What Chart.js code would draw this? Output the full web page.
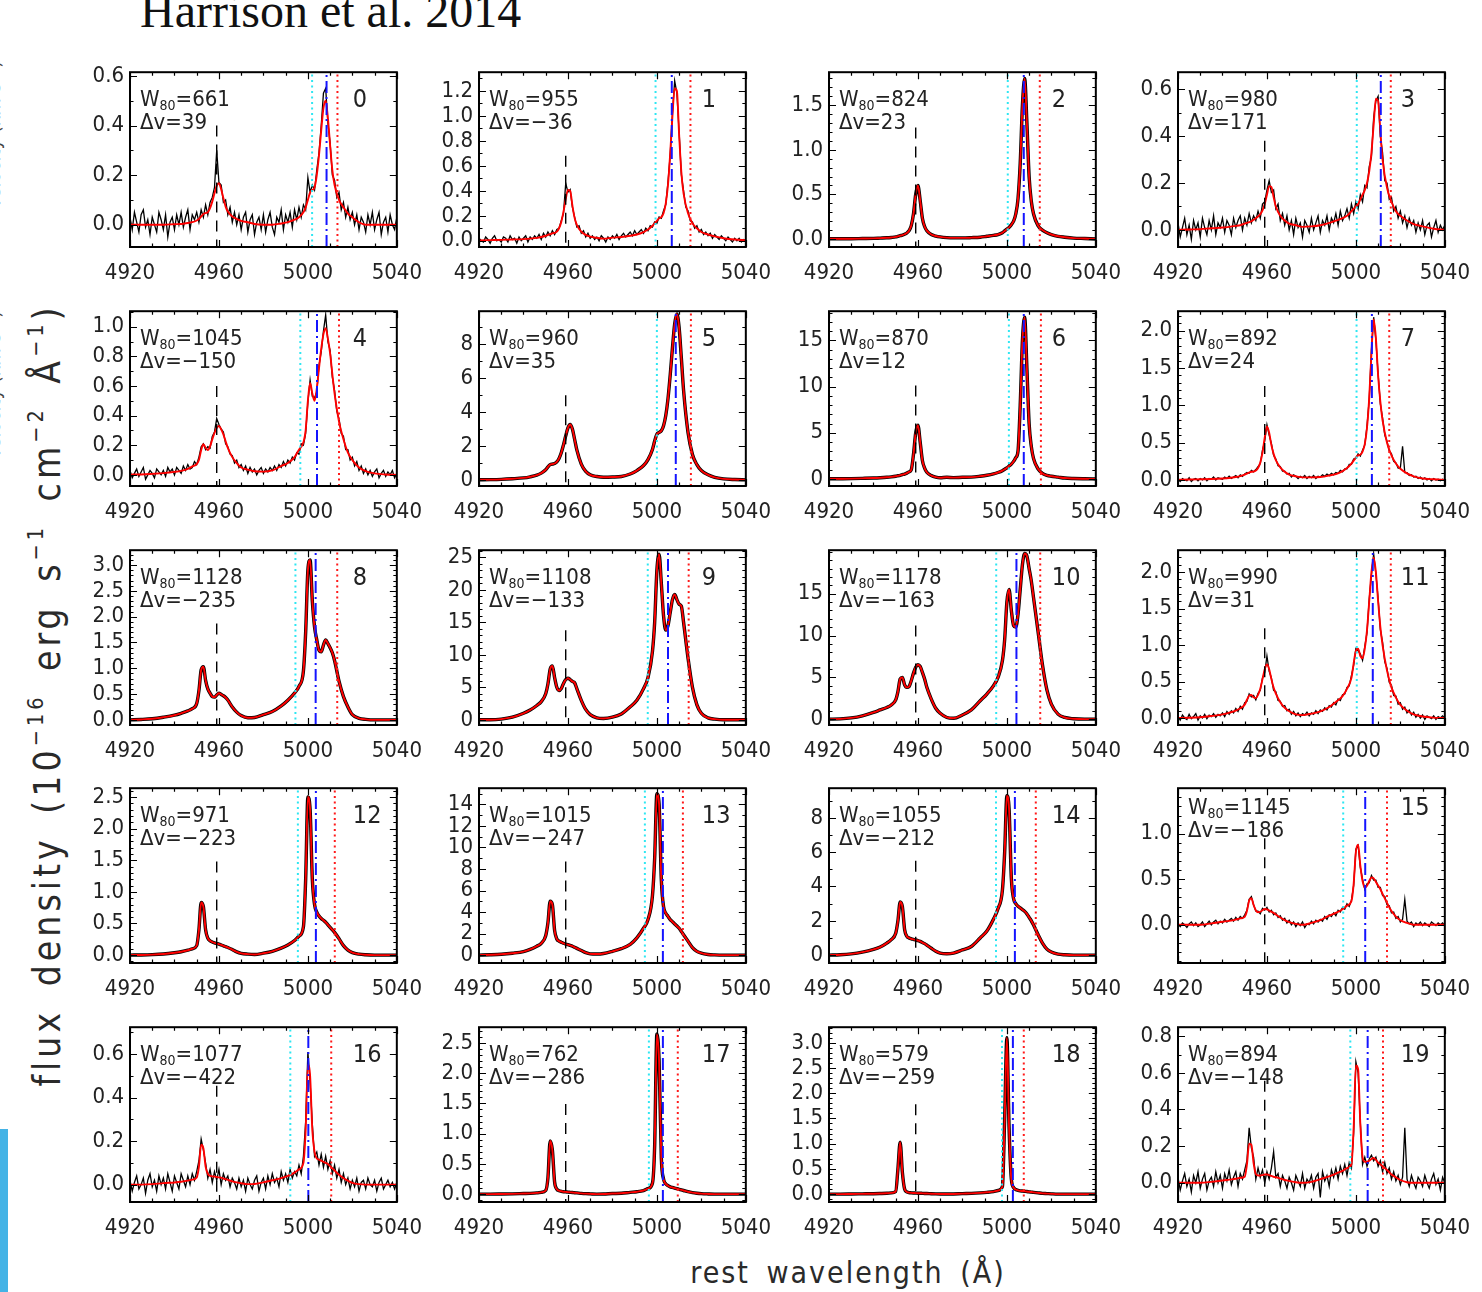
<!DOCTYPE html>
<html>
<head>
<meta charset="utf-8">
<script src="https://cdn.jsdelivr.net/npm/chart.js@4.4.1/dist/chart.umd.min.js"></script>
<style>
  body { margin: 0; width: 1482px; height: 1292px; overflow: hidden; position: relative; background: #fff; }
  canvas { position: absolute; }
  .lab { position: absolute; white-space: nowrap; color: #2a2a2a; font-family: 'DejaVu Sans Condensed', 'DejaVu Sans', sans-serif; }
  .lab sup { font-size: 58%; vertical-align: 0.75em; line-height: 0; }
  #title { left: 140px; top: -13px; font: 48px/48px 'Liberation Serif', 'DejaVu Serif', serif; color: #111; position: absolute; white-space: nowrap; }
  #ylab { left: 47px; top: 695px; font-size: 37px; letter-spacing: 4px; word-spacing: 8px; transform: translate(-50%, -50%) rotate(-90deg); }
  #xlab { left: 848px; top: 1272px; font-size: 30px; letter-spacing: 2px; word-spacing: 6px; transform: translate(-50%, -50%); }
  .cut { font-size: 20px; transform: translate(-50%, -50%) rotate(-90deg); color: #444; }
  #bar { position: absolute; left: 0; top: 1129px; width: 8px; height: 163px; background: #44b3e6; }
</style>
</head>
<body>
<div id="title">Harrison et al. 2014</div>
<div class="lab cut" style="left:-7px;top:135px">Velocity (km s<sup>−1</sup>)</div>
<div class="lab cut" style="left:-7px;top:385px">Velocity (km s<sup>−1</sup>)</div>
<div class="lab" id="ylab">flux density (10<sup>−16</sup> erg s<sup>−1</sup> cm<sup>−2</sup> Å<sup>−1</sup>)</div>
<div class="lab" id="xlab">rest wavelength (Å)</div>
<div id="bar"></div>
<script>
// ---- data ----
const xTicks = [4920, 4960, 5000, 5040];

const w80 = [661, 955, 824, 980, 1045, 960, 870, 892, 1128, 1108, 1178, 990, 971, 1015, 1055, 1145, 1077, 762, 579, 894];
const deltaV = [39, -36, 23, 171, -150, 35, 12, 24, -235, -133, -163, 31, -223, -247, -212, -186, -422, -286, -259, -148];

const yMin = [-0.09, -0.05, -0.09, -0.073, -0.075, -0.36, -0.76, -0.08, -0.1, -0.8, -0.7, -0.096, -0.125, -0.73, -0.46, -0.42, -0.08, -0.13, -0.157, -0.105];
const yMax = [0.615, 1.35, 1.87, 0.673, 1.105, 9.96, 18.15, 2.26, 3.29, 26.1, 20.2, 2.30, 2.64, 15.5, 9.73, 1.5, 0.724, 2.76, 3.31, 0.849];
const yTicks = [
  [0, 0.2, 0.4, 0.6], [0, 0.2, 0.4, 0.6, 0.8, 1.0, 1.2], [0, 0.5, 1.0, 1.5], [0, 0.2, 0.4, 0.6],
  [0, 0.2, 0.4, 0.6, 0.8, 1.0], [0, 2, 4, 6, 8], [0, 5, 10, 15], [0, 0.5, 1.0, 1.5, 2.0],
  [0, 0.5, 1.0, 1.5, 2.0, 2.5, 3.0], [0, 5, 10, 15, 20, 25], [0, 5, 10, 15], [0, 0.5, 1.0, 1.5, 2.0],
  [0, 0.5, 1.0, 1.5, 2.0, 2.5], [0, 2, 4, 6, 8, 10, 12, 14], [0, 2, 4, 6, 8], [0, 0.5, 1.0],
  [0, 0.2, 0.4, 0.6], [0, 0.5, 1.0, 1.5, 2.0, 2.5], [0, 0.5, 1.0, 1.5, 2.0, 2.5, 3.0], [0, 0.2, 0.4, 0.6, 0.8]
];
const yMinor = [0.1, 0.1, 0.1, 0.1, 0.1, 1, 1, 0.1, 0.1, 1, 1, 0.1, 0.1, 1, 1, 0.1, 0.1, 0.1, 0.1, 0.1];
const yDecimals = [1, 1, 1, 1, 1, 0, 0, 1, 1, 0, 0, 1, 1, 0, 0, 1, 1, 1, 1, 1];

// marker lines: [OIII]4959 (black dashed), v10 (cyan), median (blue), v90 (red)
const line4959 = 4959;
const dashTop = [0.40, 0.68, 1.25, 0.38, 0.60, 5.0, 10.1, 1.26, 1.87, 13.8, 11.2, 1.23, 1.48, 8.7, 5.5, 0.95, 0.455, 1.49, 1.78, 0.557];
const v10 = [5001.9, 4999.4, 5000.4, 5000.4, 4996.6, 5000.0, 5000.9, 5000.3, 4994.4, 4995.9, 4995.2, 5000.4, 4995.5, 4994.6, 4995.1, 4994.3, 4992.1, 4996.4, 4997.8, 4997.5];
const vMed = [5008.4, 5006.7, 5007.6, 5011.2, 5004.1, 5008.5, 5007.6, 5007.2, 5003.5, 5005.0, 5004.3, 5007.6, 5003.6, 5002.7, 5003.6, 5004.2, 5000.2, 5002.7, 5002.7, 5005.3];
const v90 = [5013.3, 5015.1, 5014.8, 5015.7, 5014.0, 5015.3, 5015.3, 5015.0, 5013.2, 5014.3, 5015.0, 5015.7, 5012.1, 5011.7, 5013.0, 5014.0, 5010.5, 5009.4, 5007.6, 5012.2];

// wavelength grid of the fitted models
const fitWave = [4920, 4925, 4930, 4935, 4940, 4943, 4946, 4948,
  4950, 4951, 4952, 4953, 4954, 4955, 4956, 4957, 4958, 4959, 4960, 4961, 4962, 4963, 4964,
  4966, 4968, 4970, 4973, 4976, 4980, 4984,
  4988, 4991, 4994, 4996, 4998,
  4999, 5000, 5001, 5002, 5003, 5004, 5005, 5006, 5007, 5008, 5009, 5010, 5011, 5012,
  5014, 5016, 5018, 5020, 5023, 5026, 5030, 5035, 5040];

const fit0 = [0, 0, 0, 0, 0.002, 0.003, 0.007, 0.01,
  0.017, 0.023, 0.033, 0.043, 0.047, 0.05, 0.067, 0.093, 0.127, 0.157, 0.167, 0.143, 0.107, 0.073, 0.053,
  0.033, 0.023, 0.015, 0.01, 0.003, 0, 0,
  0.005, 0.01, 0.02, 0.03, 0.05,
  0.07, 0.10, 0.13, 0.14, 0.15, 0.20, 0.28, 0.38, 0.47, 0.50, 0.43, 0.32, 0.22, 0.16,
  0.10, 0.07, 0.045, 0.03, 0.01, 0, 0, 0, 0];
const fit1 = [0.003, 0.005, 0.007, 0.01, 0.013, 0.017, 0.023, 0.03,
  0.04, 0.047, 0.053, 0.06, 0.063, 0.073, 0.10, 0.15, 0.233, 0.333, 0.407, 0.40, 0.283, 0.183, 0.127,
  0.073, 0.047, 0.033, 0.023, 0.017, 0.025, 0.03,
  0.04, 0.05, 0.07, 0.09, 0.12,
  0.14, 0.16, 0.18, 0.19, 0.22, 0.30, 0.45, 0.70, 1.00, 1.22, 1.20, 0.85, 0.55, 0.38,
  0.22, 0.14, 0.10, 0.07, 0.05, 0.035, 0.02, 0.01, 0.005];
const fit2 = [0.002, 0.003, 0.003, 0.005, 0.007, 0.01, 0.013, 0.017,
  0.023, 0.03, 0.037, 0.043, 0.053, 0.067, 0.093, 0.15, 0.283, 0.50, 0.60, 0.433, 0.233, 0.14, 0.093,
  0.05, 0.033, 0.023, 0.015, 0.012, 0.012, 0.015,
  0.02, 0.03, 0.04, 0.05, 0.07,
  0.09, 0.11, 0.13, 0.16, 0.20, 0.28, 0.45, 0.85, 1.50, 1.80, 1.30, 0.70, 0.42, 0.28,
  0.15, 0.10, 0.07, 0.05, 0.03, 0.02, 0.01, 0.005, 0];
const fit3 = [0, 0.002, 0.003, 0.007, 0.01, 0.013, 0.017, 0.02,
  0.027, 0.03, 0.033, 0.037, 0.043, 0.05, 0.057, 0.067, 0.083, 0.11, 0.15, 0.187, 0.183, 0.14, 0.10,
  0.06, 0.04, 0.027, 0.02, 0.013, 0.015, 0.02,
  0.03, 0.04, 0.05, 0.06, 0.08,
  0.09, 0.10, 0.11, 0.13, 0.15, 0.17, 0.20, 0.25, 0.33, 0.45, 0.56, 0.55, 0.42, 0.30,
  0.18, 0.12, 0.08, 0.06, 0.04, 0.025, 0.015, 0.005, 0];
const fit4 = [0.002, 0.003, 0.007, 0.012, 0.02, 0.027, 0.04, 0.057,
  0.073, 0.10, 0.167, 0.207, 0.183, 0.167, 0.193, 0.24, 0.283, 0.317, 0.33, 0.307, 0.273, 0.227, 0.183,
  0.12, 0.08, 0.05, 0.035, 0.025, 0.022, 0.03,
  0.06, 0.08, 0.12, 0.17, 0.22,
  0.30, 0.50, 0.62, 0.55, 0.50, 0.58, 0.72, 0.85, 0.95, 0.99, 0.92, 0.82, 0.68, 0.55,
  0.36, 0.24, 0.15, 0.10, 0.05, 0.025, 0.01, 0.003, 0];
const fit5 = [0.01, 0.017, 0.033, 0.067, 0.117, 0.183, 0.283, 0.40,
  0.60, 0.77, 0.90, 0.93, 0.97, 1.07, 1.27, 1.60, 2.07, 2.60, 3.07, 3.27, 3.0, 2.4, 1.77,
  0.93, 0.5, 0.3, 0.2, 0.16, 0.17, 0.2,
  0.35, 0.55, 0.85, 1.2, 1.8,
  2.3, 2.7, 2.8, 2.9, 3.2, 3.8, 4.8, 6.2, 7.8, 9.2, 9.8, 9.0, 7.2, 5.3,
  2.8, 1.5, 0.9, 0.55, 0.3, 0.15, 0.06, 0.02, 0];
const fit6 = [0.017, 0.027, 0.04, 0.067, 0.1, 0.133, 0.183, 0.233,
  0.30, 0.35, 0.40, 0.467, 0.533, 0.633, 0.767, 1.0, 2.67, 5.0, 5.83, 4.0, 2.0, 1.17, 0.73,
  0.37, 0.2, 0.13, 0.18, 0.15, 0.18, 0.2,
  0.3, 0.4, 0.55, 0.7, 0.9,
  1.05, 1.2, 1.4, 1.6, 1.9, 2.3, 3.0, 8.0, 15.0, 17.5, 12.0, 6.0, 3.5, 2.2,
  1.1, 0.6, 0.4, 0.3, 0.2, 0.1, 0.05, 0.02, 0];
const fit7 = [0.003, 0.007, 0.01, 0.013, 0.02, 0.027, 0.04, 0.053,
  0.073, 0.087, 0.10, 0.11, 0.113, 0.127, 0.16, 0.233, 0.367, 0.567, 0.717, 0.633, 0.467, 0.35, 0.267,
  0.167, 0.11, 0.073, 0.05, 0.035, 0.035, 0.04,
  0.06, 0.08, 0.12, 0.16, 0.22,
  0.26, 0.30, 0.33, 0.34, 0.38, 0.48, 0.70, 1.10, 1.70, 2.15, 1.90, 1.40, 1.05, 0.80,
  0.50, 0.33, 0.22, 0.15, 0.09, 0.05, 0.02, 0.01, 0];
const fit8 = [0, 0.007, 0.02, 0.05, 0.09, 0.127, 0.173, 0.217,
  0.317, 0.567, 0.967, 1.033, 0.767, 0.60, 0.517, 0.45, 0.44, 0.483, 0.517, 0.493, 0.467, 0.433, 0.383,
  0.25, 0.15, 0.083, 0.04, 0.045, 0.10, 0.16,
  0.27, 0.38, 0.52, 0.65, 0.95,
  1.7, 2.9, 3.1, 2.3, 1.8, 1.55, 1.35, 1.32, 1.45, 1.55, 1.48, 1.40, 1.30, 1.15,
  0.75, 0.45, 0.25, 0.10, 0.03, 0.01, 0, 0, 0];
const fit9 = [0, 0, 0.1, 0.4, 1.0, 1.5, 2.2, 2.8,
  4.0, 5.5, 7.8, 8.3, 6.5, 5.0, 4.5, 4.8, 5.6, 6.2, 6.4, 6.2, 5.9, 5.7, 4.8,
  3.0, 1.6, 0.8, 0.3, 0.2, 0.4, 0.9,
  2.0, 3.0, 4.8, 6.5, 10.5,
  15, 23, 25.5, 21, 16, 13.8, 14.5, 16.5, 18.5, 19.3, 18.5, 17.8, 17.5, 15,
  9.5, 5.0, 2.3, 1.0, 0.3, 0.1, 0, 0, 0];
const fit10 = [0, 0.03, 0.15, 0.4, 0.8, 1.1, 1.4, 1.7,
  2.3, 3.3, 4.8, 5.0, 4.1, 3.8, 3.9, 4.6, 5.5, 6.2, 6.5, 6.3, 5.6, 4.8, 3.8,
  2.4, 1.3, 0.7, 0.2, 0.1, 0.5, 1.1,
  2.2, 3.0, 4.0, 5.0, 7.0,
  9.5, 14, 15.5, 13, 11.2, 11.0, 12.5, 15.5, 18.5, 19.8, 19.5, 18, 16.5, 14.5,
  10.5, 6.5, 3.5, 1.8, 0.6, 0.2, 0.05, 0, 0];
const fit11 = [0, 0.003, 0.01, 0.027, 0.05, 0.073, 0.10, 0.133,
  0.183, 0.25, 0.307, 0.317, 0.283, 0.273, 0.317, 0.40, 0.533, 0.667, 0.733, 0.667, 0.533, 0.417, 0.333,
  0.217, 0.14, 0.093, 0.05, 0.04, 0.06, 0.09,
  0.15, 0.22, 0.30, 0.40, 0.55,
  0.75, 0.92, 0.95, 0.85, 0.82, 0.95, 1.2, 1.6, 2.0, 2.2, 2.0, 1.6, 1.25, 1.0,
  0.65, 0.42, 0.28, 0.18, 0.1, 0.05, 0.02, 0.005, 0];
const fit12 = [0, 0.002, 0.007, 0.017, 0.037, 0.053, 0.077, 0.10,
  0.15, 0.40, 0.833, 0.767, 0.40, 0.267, 0.227, 0.207, 0.193, 0.183, 0.173, 0.16, 0.147, 0.133, 0.12,
  0.087, 0.05, 0.027, 0.015, 0.01, 0.03, 0.06,
  0.11, 0.16, 0.23, 0.30, 0.45,
  1.2, 2.5, 2.3, 1.2, 0.8, 0.68, 0.62, 0.58, 0.55, 0.52, 0.48, 0.44, 0.40, 0.36,
  0.26, 0.15, 0.08, 0.04, 0.015, 0.005, 0, 0, 0];
const fit13 = [0, 0.03, 0.08, 0.18, 0.33, 0.53, 0.83, 1.1,
  1.8, 3.0, 5.0, 4.7, 2.3, 1.5, 1.3, 1.2, 1.1, 1.03, 0.97, 0.9, 0.83, 0.73, 0.63,
  0.43, 0.23, 0.12, 0.1, 0.15, 0.35, 0.6,
  1.0, 1.6, 2.5, 3.3, 5.5,
  9, 15, 14, 7, 4.5, 3.9, 3.6, 3.3, 3.1, 2.9, 2.7, 2.5, 2.2, 1.9,
  1.3, 0.7, 0.35, 0.18, 0.06, 0.02, 0, 0, 0];
const fit14 = [0, 0.02, 0.07, 0.17, 0.33, 0.47, 0.7, 0.9,
  1.27, 2.0, 3.1, 2.83, 1.5, 1.1, 1.0, 0.95, 0.92, 0.88, 0.85, 0.8, 0.73, 0.67, 0.58,
  0.4, 0.23, 0.12, 0.08, 0.12, 0.3, 0.5,
  1.0, 1.4, 2.1, 2.7, 3.8,
  6, 9.3, 8.5, 4.5, 3.3, 3.0, 2.85, 2.75, 2.65, 2.55, 2.4, 2.2, 2.0, 1.75,
  1.2, 0.7, 0.35, 0.18, 0.06, 0.02, 0, 0, 0];
const fit15 = [0, 0, 0, 0.015, 0.033, 0.043, 0.057, 0.07,
  0.087, 0.15, 0.267, 0.293, 0.217, 0.16, 0.137, 0.143, 0.16, 0.173, 0.17, 0.157, 0.143, 0.13, 0.113,
  0.08, 0.05, 0.03, 0.01, 0, 0.02, 0.05,
  0.10, 0.13, 0.17, 0.21, 0.26,
  0.45, 0.80, 0.88, 0.65, 0.48, 0.41, 0.43, 0.48, 0.52, 0.51, 0.47, 0.43, 0.39, 0.34,
  0.24, 0.15, 0.09, 0.05, 0.02, 0, 0, 0, 0];
const fit16 = [0, 0, 0.002, 0.007, 0.01, 0.013, 0.018, 0.023,
  0.033, 0.083, 0.183, 0.167, 0.083, 0.05, 0.04, 0.038, 0.037, 0.035, 0.033, 0.032, 0.028, 0.025, 0.022,
  0.015, 0.01, 0.006, 0.002, 0.003, 0.01, 0.02,
  0.03, 0.04, 0.055, 0.07, 0.10,
  0.25, 0.55, 0.50, 0.25, 0.15, 0.12, 0.115, 0.11, 0.105, 0.10, 0.095, 0.085, 0.075, 0.065,
  0.045, 0.03, 0.018, 0.008, 0.002, 0, 0, 0, 0];
const fit17 = [0, 0, 0.002, 0.005, 0.01, 0.013, 0.02, 0.03,
  0.06, 0.27, 0.88, 0.73, 0.2, 0.083, 0.057, 0.047, 0.04, 0.037, 0.033, 0.03, 0.027, 0.023, 0.02,
  0.013, 0.008, 0.005, 0.001, 0.003, 0.01, 0.015,
  0.03, 0.04, 0.06, 0.09, 0.18,
  0.8, 2.65, 2.2, 0.6, 0.25, 0.17, 0.14, 0.12, 0.11, 0.10, 0.09, 0.08, 0.07, 0.06,
  0.04, 0.025, 0.015, 0.008, 0.003, 0, 0, 0, 0];
const fit18 = [0, 0, 0.002, 0.005, 0.008, 0.012, 0.017, 0.023,
  0.05, 0.5, 1.03, 0.43, 0.1, 0.043, 0.03, 0.025, 0.022, 0.02, 0.018, 0.017, 0.015, 0.013, 0.012,
  0.008, 0.005, 0.003, 0.001, 0.003, 0.01, 0.015,
  0.025, 0.035, 0.05, 0.07, 0.15,
  1.5, 3.1, 1.3, 0.3, 0.13, 0.09, 0.075, 0.065, 0.06, 0.055, 0.05, 0.045, 0.04, 0.035,
  0.025, 0.015, 0.01, 0.005, 0, 0, 0, 0, 0];
const fit19 = [0, 0, 0, 0.005, 0.012, 0.017, 0.022, 0.027,
  0.033, 0.10, 0.213, 0.207, 0.107, 0.047, 0.04, 0.04, 0.042, 0.045, 0.045, 0.042, 0.037, 0.033, 0.03,
  0.023, 0.015, 0.01, 0.003, 0, 0.005, 0.02,
  0.035, 0.05, 0.065, 0.08, 0.10,
  0.30, 0.64, 0.62, 0.32, 0.14, 0.115, 0.115, 0.12, 0.13, 0.135, 0.125, 0.11, 0.10, 0.09,
  0.07, 0.045, 0.03, 0.015, 0.003, 0, 0, 0, 0];

// observed spectra of the noisier sources, 1 A pixels
const obsWave = [
  4920, 4921, 4922, 4923, 4924, 4925, 4926, 4927, 4928, 4929,
  4930, 4931, 4932, 4933, 4934, 4935, 4936, 4937, 4938, 4939,
  4940, 4941, 4942, 4943, 4944, 4945, 4946, 4947, 4948, 4949,
  4950, 4951, 4952, 4953, 4954, 4955, 4956, 4957, 4958, 4959,
  4960, 4961, 4962, 4963, 4964, 4965, 4966, 4967, 4968, 4969,
  4970, 4971, 4972, 4973, 4974, 4975, 4976, 4977, 4978, 4979,
  4980, 4981, 4982, 4983, 4984, 4985, 4986, 4987, 4988, 4989,
  4990, 4991, 4992, 4993, 4994, 4995, 4996, 4997, 4998, 4999,
  5000, 5001, 5002, 5003, 5004, 5005, 5006, 5007, 5008, 5009,
  5010, 5011, 5012, 5013, 5014, 5015, 5016, 5017, 5018, 5019,
  5020, 5021, 5022, 5023, 5024, 5025, 5026, 5027, 5028, 5029,
  5030, 5031, 5032, 5033, 5034, 5035, 5036, 5037, 5038, 5039,
  5040];

const obs0 = [
  0.03, -0.02, 0.05, 0.01, -0.03, 0.04, 0.06, -0.01, 0.02, -0.04,
  0.03, 0.00, -0.03, 0.05, 0.02, -0.02, 0.04, -0.05, 0.01, 0.03,
  -0.02, 0.04, 0.00, 0.05, -0.01, 0.03, 0.06, -0.02, 0.04, 0.02,
  0.05, 0.01, 0.06, 0.03, 0.08, 0.04, 0.09, 0.11, 0.15, 0.30,
  0.17, 0.16, 0.09, 0.10, 0.04, 0.07, 0.01, 0.05, 0.00, 0.04,
  -0.02, 0.03, 0.05, -0.03, 0.02, 0.04, -0.04, 0.01, 0.03, -0.02,
  0.04, -0.03, 0.02, 0.05, -0.01, -0.04, 0.03, 0.01, 0.06, -0.02,
  0.04, 0.01, 0.05, -0.01, 0.06, 0.02, 0.07, 0.03, 0.08, 0.06,
  0.19, 0.13, 0.16, 0.14, 0.22, 0.29, 0.40, 0.53, 0.55, 0.41,
  0.33, 0.20, 0.18, 0.11, 0.13, 0.06, 0.09, 0.03, 0.07, 0.02,
  0.05, 0.00, 0.04, -0.02, 0.03, 0.01, -0.03, 0.04, 0.00, 0.05,
  -0.02, 0.02, 0.05, -0.04, 0.01, 0.03, -0.03, 0.04, 0.00, -0.02,
  0.03];
const obs1 = [
  0.02, 0.00, -0.01, 0.03, 0.01, -0.02, 0.02, 0.04, 0.00, 0.01,
  -0.01, 0.03, 0.02, -0.01, 0.04, 0.01, 0.02, -0.02, 0.03, 0.00,
  0.02, 0.04, -0.01, 0.03, 0.01, 0.04, 0.02, 0.05, 0.01, 0.06,
  0.03, 0.07, 0.04, 0.08, 0.05, 0.09, 0.10, 0.16, 0.22, 0.46,
  0.39, 0.41, 0.27, 0.19, 0.11, 0.12, 0.06, 0.08, 0.03, 0.06,
  0.02, 0.04, 0.01, 0.03, 0.00, 0.04, 0.02, -0.01, 0.03, 0.01,
  0.04, 0.02, 0.05, 0.01, 0.04, 0.06, 0.03, 0.05, 0.07, 0.04,
  0.08, 0.05, 0.07, 0.09, 0.06, 0.10, 0.08, 0.12, 0.11, 0.15,
  0.14, 0.19, 0.18, 0.24, 0.29, 0.47, 0.69, 1.02, 1.28, 1.18,
  0.87, 0.53, 0.40, 0.27, 0.24, 0.16, 0.15, 0.10, 0.12, 0.07,
  0.09, 0.05, 0.07, 0.04, 0.06, 0.02, 0.05, 0.03, 0.01, 0.04,
  0.02, 0.00, 0.03, 0.01, -0.01, 0.02, 0.00, 0.02, -0.01, 0.01,
  0.00];
const obs3 = [
  0.03, -0.03, 0.01, 0.05, -0.02, 0.02, -0.04, 0.04, 0.00, 0.03,
  -0.03, 0.05, 0.01, -0.02, 0.04, 0.00, 0.06, -0.02, 0.03, 0.01,
  0.05, -0.01, 0.04, 0.02, -0.02, 0.05, 0.01, 0.04, 0.06, 0.00,
  0.05, 0.02, 0.07, 0.03, 0.06, 0.04, 0.08, 0.05, 0.11, 0.12,
  0.17, 0.21, 0.16, 0.17, 0.09, 0.11, 0.04, 0.07, 0.02, 0.06,
  0.00, 0.04, -0.02, 0.05, 0.01, 0.03, -0.03, 0.04, 0.02, -0.01,
  0.05, 0.00, 0.03, 0.06, -0.01, 0.04, 0.02, 0.06, 0.00, 0.05,
  0.03, 0.07, 0.02, 0.08, 0.04, 0.06, 0.09, 0.05, 0.11, 0.07,
  0.12, 0.09, 0.15, 0.12, 0.19, 0.18, 0.27, 0.31, 0.48, 0.55,
  0.57, 0.40, 0.33, 0.21, 0.20, 0.13, 0.14, 0.08, 0.10, 0.05,
  0.08, 0.03, 0.06, 0.01, 0.05, 0.02, 0.04, -0.01, 0.03, 0.00,
  0.04, -0.02, 0.02, 0.03, -0.03, 0.01, 0.04, -0.01, 0.02, 0.00,
  0.02];
const obs4 = [
  0.03, -0.02, 0.01, 0.04, -0.01, 0.02, 0.05, -0.03, 0.00, 0.03,
  0.01, -0.02, 0.04, 0.02, 0.00, 0.03, -0.01, 0.05, 0.02, 0.04,
  0.00, 0.05, 0.03, 0.01, 0.06, 0.03, 0.07, 0.04, 0.05, 0.09,
  0.07, 0.12, 0.19, 0.21, 0.17, 0.19, 0.18, 0.26, 0.29, 0.38,
  0.34, 0.31, 0.29, 0.21, 0.19, 0.14, 0.13, 0.08, 0.10, 0.05,
  0.07, 0.03, 0.06, 0.01, 0.05, 0.02, 0.04, 0.00, 0.03, 0.05,
  0.01, 0.04, 0.02, 0.05, 0.03, 0.06, 0.03, 0.07, 0.05, 0.09,
  0.06, 0.10, 0.08, 0.12, 0.10, 0.15, 0.14, 0.21, 0.20, 0.28,
  0.49, 0.64, 0.53, 0.52, 0.56, 0.74, 0.83, 0.97, 1.08, 0.90,
  0.84, 0.66, 0.57, 0.43, 0.38, 0.28, 0.26, 0.17, 0.17, 0.10,
  0.12, 0.06, 0.09, 0.03, 0.06, 0.01, 0.04, 0.00, 0.03, -0.01,
  0.02, 0.04, -0.02, 0.01, 0.03, -0.01, 0.02, 0.00, 0.03, -0.02,
  0.01];
const obs7 = [
  0.01, -0.02, 0.02, 0.00, -0.01, 0.03, -0.02, 0.01, 0.02, -0.01,
  0.02, 0.00, 0.03, -0.01, 0.02, 0.01, 0.04, 0.00, 0.03, 0.02,
  0.01, 0.04, 0.02, 0.05, 0.02, 0.04, 0.06, 0.03, 0.07, 0.05,
  0.08, 0.10, 0.09, 0.13, 0.11, 0.14, 0.18, 0.22, 0.40, 0.52,
  0.74, 0.60, 0.49, 0.33, 0.28, 0.19, 0.18, 0.12, 0.12, 0.08,
  0.09, 0.04, 0.07, 0.05, 0.02, 0.05, 0.03, 0.06, 0.02, 0.05,
  0.03, 0.06, 0.02, 0.05, 0.04, 0.07, 0.05, 0.08, 0.06, 0.09,
  0.07, 0.10, 0.09, 0.13, 0.11, 0.15, 0.15, 0.21, 0.21, 0.28,
  0.29, 0.35, 0.32, 0.40, 0.47, 0.72, 1.08, 1.74, 2.18, 1.87,
  1.42, 1.02, 0.83, 0.60, 0.52, 0.39, 0.35, 0.25, 0.23, 0.16,
  0.16, 0.45, 0.10, 0.10, 0.06, 0.07, 0.04, 0.05, 0.02, 0.04,
  0.01, 0.03, 0.00, 0.02, -0.01, 0.02, 0.00, 0.01, -0.01, 0.01,
  0.00];
const obs11 = [
  0.02, -0.03, 0.04, 0.00, -0.02, 0.05, -0.01, 0.02, 0.06, -0.03,
  0.03, 0.00, 0.05, -0.01, 0.04, 0.02, 0.06, 0.01, 0.05, 0.03,
  0.07, 0.02, 0.09, 0.05, 0.10, 0.07, 0.13, 0.09, 0.16, 0.12,
  0.21, 0.23, 0.33, 0.29, 0.31, 0.25, 0.34, 0.38, 0.55, 0.62,
  0.85, 0.64, 0.55, 0.38, 0.36, 0.24, 0.23, 0.16, 0.17, 0.10,
  0.12, 0.05, 0.09, 0.03, 0.07, 0.02, 0.06, 0.04, 0.08, 0.03,
  0.07, 0.05, 0.10, 0.06, 0.11, 0.09, 0.14, 0.11, 0.17, 0.15,
  0.21, 0.18, 0.26, 0.24, 0.32, 0.33, 0.42, 0.44, 0.58, 0.72,
  0.95, 0.92, 0.88, 0.79, 0.98, 1.17, 1.63, 1.96, 2.25, 1.97,
  1.64, 1.21, 1.04, 0.77, 0.68, 0.49, 0.45, 0.31, 0.30, 0.19,
  0.21, 0.12, 0.15, 0.07, 0.11, 0.04, 0.08, 0.01, 0.05, 0.00,
  0.04, -0.02, 0.03, 0.01, -0.01, 0.03, -0.02, 0.02, 0.00, 0.03,
  0.00];
const obs15 = [
  0.01, -0.02, 0.02, 0.00, -0.03, 0.01, 0.03, -0.01, 0.02, -0.02,
  0.00, 0.03, -0.02, 0.01, 0.04, 0.00, 0.03, 0.05, 0.01, 0.04,
  0.02, 0.06, 0.03, 0.05, 0.07, 0.04, 0.08, 0.05, 0.09, 0.07,
  0.11, 0.16, 0.28, 0.31, 0.22, 0.15, 0.15, 0.12, 0.18, 0.16,
  0.19, 0.14, 0.16, 0.11, 0.13, 0.08, 0.10, 0.05, 0.07, 0.02,
  0.05, 0.00, 0.03, -0.02, 0.02, -0.01, 0.03, -0.03, 0.01, 0.00,
  0.04, 0.01, 0.05, 0.03, 0.06, 0.04, 0.09, 0.06, 0.11, 0.09,
  0.13, 0.10, 0.16, 0.14, 0.19, 0.17, 0.23, 0.20, 0.27, 0.43,
  0.83, 0.87, 0.63, 0.50, 0.39, 0.45, 0.46, 0.54, 0.49, 0.49,
  0.41, 0.41, 0.32, 0.31, 0.22, 0.21, 0.13, 0.14, 0.07, 0.09,
  0.03, 0.06, 0.28, 0.04, 0.01, 0.03, -0.02, 0.02, 0.00, 0.03,
  -0.01, 0.02, 0.00, -0.02, 0.03, 0.01, -0.01, 0.02, 0.00, 0.02,
  -0.01];
const obs16 = [
  0.02, -0.03, 0.01, 0.04, -0.02, 0.00, 0.03, -0.04, 0.02, 0.05,
  -0.01, 0.02, -0.03, 0.04, 0.00, 0.03, -0.02, 0.05, 0.01, -0.03,
  0.04, 0.01, -0.02, 0.05, 0.02, -0.01, 0.04, 0.00, 0.05, 0.02,
  0.06, 0.11, 0.21, 0.16, 0.10, 0.03, 0.07, 0.01, 0.06, 0.02,
  0.07, 0.00, 0.05, 0.02, 0.04, -0.01, 0.03, 0.01, -0.02, 0.03,
  -0.01, 0.02, -0.03, 0.03, 0.00, -0.02, 0.02, 0.04, -0.03, 0.01,
  0.03, -0.02, 0.04, 0.00, 0.05, 0.01, 0.03, -0.01, 0.06, 0.02,
  0.05, 0.01, 0.07, 0.03, 0.06, 0.04, 0.09, 0.05, 0.13, 0.29,
  0.61, 0.47, 0.28, 0.13, 0.15, 0.09, 0.14, 0.08, 0.13, 0.07,
  0.11, 0.05, 0.09, 0.03, 0.07, 0.01, 0.05, 0.00, 0.03, -0.02,
  0.02, -0.01, 0.03, -0.03, 0.01, 0.02, -0.02, 0.03, 0.00, -0.01,
  0.02, -0.03, 0.01, 0.03, -0.02, 0.00, 0.02, -0.01, 0.01, -0.02,
  0.01];
const obs19 = [
  0.03, -0.04, 0.01, 0.05, -0.02, 0.02, -0.05, 0.04, 0.00, 0.06,
  -0.03, 0.02, 0.05, -0.04, 0.01, 0.03, -0.02, 0.06, 0.00, 0.04,
  -0.03, 0.05, 0.01, 0.07, -0.01, 0.03, 0.06, -0.02, 0.05, 0.02,
  0.07, 0.12, 0.30, 0.19, 0.14, 0.02, 0.08, 0.03, 0.07, 0.00,
  0.06, 0.02, 0.08, 0.17, 0.03, 0.05, -0.02, 0.04, 0.01, -0.03,
  0.03, 0.00, -0.04, 0.04, 0.01, -0.02, 0.05, -0.03, 0.02, 0.00,
  0.04, -0.03, 0.03, 0.05, -0.08, 0.06, 0.01, 0.04, -0.02, 0.07,
  0.03, 0.08, 0.02, 0.09, 0.05, 0.10, 0.04, 0.11, 0.08, 0.27,
  0.66, 0.60, 0.33, 0.10, 0.14, 0.09, 0.13, 0.15, 0.12, 0.14,
  0.09, 0.12, 0.06, 0.11, 0.05, 0.08, 0.02, 0.06, 0.01, 0.04,
  -0.01, 0.03, 0.30, 0.02, -0.02, 0.04, 0.00, -0.03, 0.03, 0.01,
  -0.02, 0.04, 0.00, -0.03, 0.02, 0.05, -0.01, 0.02, -0.04, 0.03,
  0.00];

const fits = [fit0, fit1, fit2, fit3, fit4, fit5, fit6, fit7, fit8, fit9,
  fit10, fit11, fit12, fit13, fit14, fit15, fit16, fit17, fit18, fit19];
const observed = { 0: obs0, 1: obs1, 3: obs3, 4: obs4, 7: obs7, 11: obs11, 15: obs15, 16: obs16, 19: obs19 };

// ---- layout ----
const FONT = "'DejaVu Sans Condensed', 'DejaVu Sans', sans-serif";
const INK = '#222';
const colLeft = [130, 479, 829, 1178];
const rowTop = [72, 311, 550, 788, 1027];
const PW = 267, PH = 175;
const AXW = 60, AXH = 44, PADT = 14, PADR = 34;
const textShift = { 15: -8 };   // panel 15 has its labels a bit higher

Chart.defaults.font.family = FONT;
Chart.defaults.color = INK;

function toPoints(xs, ys) {
  return xs.map((x, k) => ({ x: x, y: ys[k] }));
}

function vline(x, y0, y1, color, dash, width) {
  return {
    data: [{ x: x, y: y0 }, { x: x, y: y1 }],
    borderColor: color, borderDash: dash, borderWidth: width,
    pointRadius: 0, tension: 0, order: 0
  };
}

function fmtDv(v) {
  return v < 0 ? '\u2212' + Math.abs(v) : String(v);
}

// box, inward ticks on all four sides and the panel annotations
const panelDecor = {
  id: 'panelDecor',
  afterDatasetsDraw(chart, args, opts) {
    const i = opts.panel;
    const ctx = chart.ctx;
    const a = chart.chartArea;
    const xs = chart.scales.x, ys = chart.scales.y;
    ctx.save();
    ctx.strokeStyle = '#000';
    ctx.lineWidth = 1.2;
    ctx.beginPath();
    for (let w = xTicks[0]; w <= xTicks[xTicks.length - 1] + 1e-6; w += 10) {
      const px = Math.round(xs.getPixelForValue(w)) + 0.5;
      const len = xTicks.includes(w) ? 7 : 3.5;
      ctx.moveTo(px, a.bottom); ctx.lineTo(px, a.bottom - len);
      ctx.moveTo(px, a.top); ctx.lineTo(px, a.top + len);
    }
    const m = yMinor[i];
    for (let k = Math.ceil(yMin[i] / m - 1e-6); k * m <= yMax[i] + 1e-9; k++) {
      const v = k * m;
      const py = Math.round(ys.getPixelForValue(v)) + 0.5;
      const major = yTicks[i].some(t => Math.abs(t - v) < m / 10);
      const len = major ? 7 : 3.5;
      ctx.moveTo(a.left, py); ctx.lineTo(a.left + len, py);
      ctx.moveTo(a.right, py); ctx.lineTo(a.right - len, py);
    }
    ctx.stroke();
    ctx.lineWidth = 2;
    ctx.strokeRect(a.left, a.top, a.right - a.left, a.bottom - a.top);

    const dy = textShift[i] || 0;
    const b1 = a.top + 34 + dy, b2 = a.top + 57 + dy;
    let x = a.left + 10;
    ctx.fillStyle = INK;
    ctx.textAlign = 'left';
    ctx.textBaseline = 'alphabetic';
    ctx.font = '22px ' + FONT;
    ctx.fillText('W', x, b1);
    x += ctx.measureText('W').width;
    ctx.font = '14px ' + FONT;
    ctx.fillText('80', x, b1 + 4);
    x += ctx.measureText('80').width;
    ctx.font = '22px ' + FONT;
    ctx.fillText('=' + w80[i], x, b1);
    ctx.fillText('\u0394v=' + fmtDv(deltaV[i]), a.left + 10, b2);
    ctx.font = '25px ' + FONT;
    ctx.fillText(String(i), a.right - 44, b1 + 1);
    ctx.restore();
  }
};

function makeConfig(i) {
  const fitPts = toPoints(fitWave, fits[i]);
  const obs = observed[i];
  const datasets = [
    vline(line4959, dashTop[i], yMin[i], '#000', [11, 8], 1.4),
    vline(v10[i], yMin[i], yMax[i], '#2ee6f2', [2, 3.5], 2),
    vline(vMed[i], yMin[i], yMax[i], '#1414ff', [12, 4, 2, 4], 2),
    vline(v90[i], yMin[i], yMax[i], '#ff1a1a', [2, 3.5], 2),
    { data: fitPts, borderColor: '#ff0000', borderWidth: 1.9, pointRadius: 0,
      cubicInterpolationMode: 'monotone', order: 1 },
    obs
      ? { data: toPoints(obsWave, obs), borderColor: '#000', borderWidth: 1.3, pointRadius: 0, tension: 0, order: 2 }
      : { data: fitPts, borderColor: '#000', borderWidth: 3.4, pointRadius: 0,
          cubicInterpolationMode: 'monotone', order: 2 }
  ];
  return {
    type: 'line',
    data: { datasets: datasets },
    options: {
      responsive: false,
      maintainAspectRatio: false,
      animation: false,
      devicePixelRatio: 1,
      events: [],
      layout: { padding: { left: 0, top: PADT, right: PADR, bottom: 0 } },
      plugins: { legend: { display: false }, tooltip: { enabled: false }, panelDecor: { panel: i } },
      scales: {
        x: {
          type: 'linear', min: 4920, max: 5040,
          grid: { display: false, drawTicks: false },
          border: { display: false },
          afterBuildTicks: (s) => { s.ticks = xTicks.map(v => ({ value: v })); },
          afterFit: (s) => { s.height = AXH; },
          ticks: { autoSkip: false, maxRotation: 0, minRotation: 0, padding: 13,
            font: { size: 22 }, color: INK, callback: (v) => String(v) }
        },
        y: {
          type: 'linear', min: yMin[i], max: yMax[i],
          grid: { display: false, drawTicks: false },
          border: { display: false },
          afterBuildTicks: (s) => { s.ticks = yTicks[i].map(v => ({ value: v })); },
          afterFit: (s) => { s.width = AXW; },
          ticks: { autoSkip: false, padding: 6, font: { size: 22 }, color: INK,
            callback: (v) => Number(v).toFixed(yDecimals[i]) }
        }
      }
    },
    plugins: [panelDecor]
  };
}

for (let i = 0; i < 20; i++) {
  const col = i % 4, row = Math.floor(i / 4);
  const cv = document.createElement('canvas');
  cv.width = AXW + PW + PADR;
  cv.height = PADT + PH + AXH;
  document.body.appendChild(cv);

  let chart = new Chart(cv, makeConfig(i));
  let ca = chart.chartArea;
  const dw = PW - Math.round(ca.right - ca.left);
  const dh = PH - Math.round(ca.bottom - ca.top);
  if (dw !== 0 || dh !== 0) {
    // grow the canvas so the plot area comes out at the size of the figure's panels
    chart.destroy();
    cv.width = AXW + PW + PADR + dw;
    cv.height = PADT + PH + AXH + dh;
    chart = new Chart(cv, makeConfig(i));
    ca = chart.chartArea;
  }
  cv.style.left = (colLeft[col] - ca.left) + 'px';
  cv.style.top = (rowTop[row] - ca.top) + 'px';
}
</script>
</body>
</html>
